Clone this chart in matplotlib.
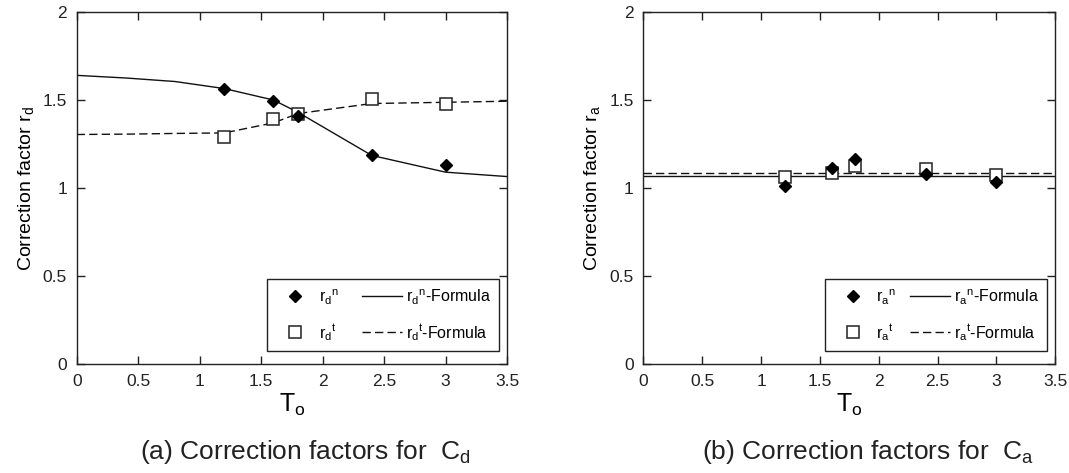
import matplotlib
matplotlib.use('Agg')
import matplotlib.pyplot as plt

plt.rcParams['font.family'] = ['Liberation Sans', 'DejaVu Sans']
plt.rcParams['mathtext.fontset'] = 'custom'
plt.rcParams['mathtext.rm'] = 'Liberation Sans'
plt.rcParams['mathtext.it'] = 'Liberation Sans:italic'

# measured points
t_exp = [1.2, 1.6, 1.8, 2.4, 3.0]
rd_n = [1.56, 1.495, 1.41, 1.185, 1.13]
rd_t = [1.29, 1.39, 1.42, 1.505, 1.477]
ra_n = [1.01, 1.114, 1.162, 1.077, 1.035]
ra_t = [1.06, 1.086, 1.124, 1.11, 1.075]

# formula curves
t_fit = [0, 0.4, 0.8, 1.2, 1.6, 1.8, 2.4, 3.0, 3.5]
rd_n_fit = [1.64, 1.625, 1.605, 1.565, 1.5, 1.43, 1.185, 1.09, 1.065]
rd_t_fit = [1.304, 1.306, 1.31, 1.313, 1.37, 1.423, 1.48, 1.487, 1.493]
ra_n_fit = [1.07] * len(t_fit)
ra_t_fit = [1.088] * len(t_fit)

xticks = [0, 0.5, 1, 1.5, 2, 2.5, 3, 3.5]
xticklabels = ['0', '0.5', '1', '1.5', '2', '2.5', '3', '3.5']
yticks = [0, 0.5, 1, 1.5, 2]
yticklabels = ['0', '0.5', '1', '1.5', '2']

W, H = 1069, 473
fig = plt.figure(figsize=(W / 100, H / 100), dpi=100)
ax1 = fig.add_axes([76.7 / W, 1 - 364 / H, 430.3 / W, 352 / H])
ax2 = fig.add_axes([643.3 / W, 1 - 364 / H, 412 / W, 352 / H])


def draw(ax, yn, yt, yn_fit, yt_fit, sub, box):
    ln_d, = ax.plot(t_exp, yn, linestyle='none', marker='D', markersize=6.5,
                    color='black', zorder=4)
    ln_s, = ax.plot(t_exp, yt, linestyle='none', marker='s', markersize=8.5,
                    markerfacecolor='white', markeredgecolor='#222222',
                    markeredgewidth=1.1, zorder=3)
    ln_f, = ax.plot(t_fit, yn_fit, color='#111111', lw=1.0, zorder=2)
    ln_g, = ax.plot(t_fit, yt_fit, color='#111111', lw=1.0,
                    dashes=(6, 3), zorder=2)

    ax.set_xlim(0, 3.5)
    ax.set_ylim(0, 2)
    ax.set_xticks(xticks)
    ax.set_xticklabels(xticklabels)
    ax.set_yticks(yticks)
    ax.set_yticklabels(yticklabels)
    ax.tick_params(direction='in', length=6, width=1.0, top=True, right=True,
                   labelsize=12.5, colors='#222222')
    ax.tick_params(axis='y', pad=7)
    ax.tick_params(axis='x', pad=7)
    for s in ax.spines.values():
        s.set_linewidth(1.0)
        s.set_color('#222222')

    ax.set_xlabel(r'T$_\mathregular{o}$', fontsize=18, labelpad=2)
    ax.set_ylabel(r'Correction factor r$_\mathregular{%s}$' % sub,
                  fontsize=14, labelpad=5)

    labels = [r'r$_\mathregular{%s}$$^\mathregular{n}$' % sub,
              r'r$_\mathregular{%s}$$^\mathregular{t}$' % sub,
              r'r$_\mathregular{%s}$$^\mathregular{n}$-Formula' % sub,
              r'r$_\mathregular{%s}$$^\mathregular{t}$-Formula' % sub]
    leg = ax.legend([ln_d, ln_s, ln_f, ln_g], labels, ncol=2,
                    loc='center', bbox_to_anchor=box, mode='expand',
                    borderaxespad=0, fontsize=11.5, handlelength=2.5,
                    handletextpad=0.25, labelspacing=0.95, borderpad=0.5,
                    columnspacing=0.8, numpoints=1, fancybox=False,
                    framealpha=1, edgecolor='#222222')
    leg.get_frame().set_linewidth(1.0)


draw(ax1, rd_n, rd_t, rd_n_fit, rd_t_fit, 'd', (0.442, 0.017, 0.539, 0.244))
draw(ax2, ra_n, ra_t, ra_n_fit, ra_t_fit, 'a', (0.44, 0.017, 0.54, 0.244))

fig.text(305 / W, 1 - 452 / H, r'(a) Correction factors for  C$_\mathregular{d}$',
         ha='center', va='center', fontsize=19, color='#222222')
fig.text(868 / W, 1 - 452 / H, r'(b) Correction factors for  C$_\mathregular{a}$',
         ha='center', va='center', fontsize=19, color='#222222')

fig.savefig('out.png', dpi=100)
